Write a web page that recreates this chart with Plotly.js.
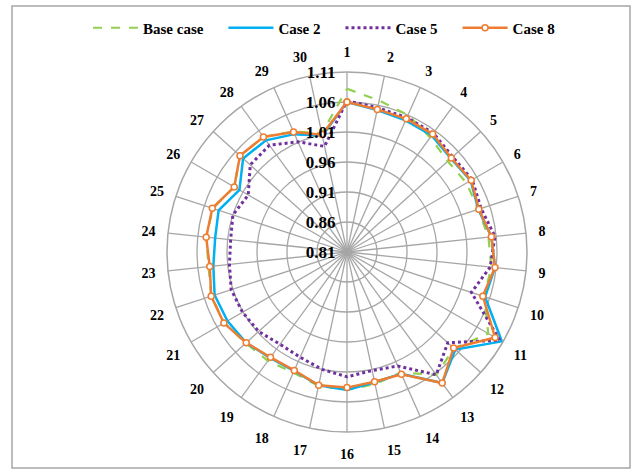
<!DOCTYPE html>
<html>
<head>
<meta charset="utf-8">
<script src="https://cdn.plot.ly/plotly-3.0.1.min.js"></script>
<style>
  html, body { margin: 0; padding: 0; background: #fff; }
  #chart { width: 638px; height: 474px; }
</style>
</head>
<body>
<div id="chart"></div>
<script>
// Bus numbers around the radar
const buses = ["1","2","3","4","5","6","7","8","9","10","11","12","13","14","15",
               "16","17","18","19","20","21","22","23","24","25","26","27","28","29","30"];

// Bus voltage magnitudes (p.u.) for each case
const baseCase = [1.082,1.068,1.060,1.046,1.036,1.040,1.040,1.047,1.052,1.050,
                  1.082,1.050,1.063,1.030,1.035,1.040,1.038,1.030,1.034,1.037,
                  1.046,1.048,1.042,1.046,1.045,1.027,1.050,1.047,1.030,1.012];
const case2    = [1.060,1.052,1.050,1.050,1.043,1.048,1.040,1.052,1.058,1.052,
                  1.108,1.053,1.080,1.032,1.032,1.040,1.037,1.027,1.028,1.036,
                  1.040,1.042,1.034,1.031,1.035,1.017,1.043,1.040,1.025,1.008];
const case5    = [1.062,1.056,1.055,1.055,1.047,1.051,1.045,1.058,1.050,1.028,
                  1.104,1.036,1.063,1.018,1.012,1.018,1.010,1.002,1.000,1.008,
                  1.011,1.013,1.007,1.005,1.010,1.000,1.027,1.030,1.011,0.990];
const case8    = [1.060,1.053,1.053,1.053,1.044,1.049,1.041,1.052,1.058,1.048,
                  1.095,1.049,1.080,1.033,1.031,1.036,1.037,1.026,1.027,1.036,
                  1.047,1.048,1.040,1.046,1.046,1.027,1.050,1.047,1.029,1.010];

// Radial scale ticks
const radialTicks = [0.81, 0.86, 0.91, 0.96, 1.01, 1.06, 1.11];
const radialTickText = ["0.81","0.86","0.91","0.96","1.01","1.06","1.11"];

const closeLoop = arr => arr.concat([arr[0]]);
const theta = closeLoop(buses);

const serif = "'Liberation Serif', 'Times New Roman', serif";
const gap = "\u00a0\u00a0\u00a0\u00a0";

const traces = [
  { name: "Base case" + gap, r: closeLoop(baseCase), theta: theta, type: "scatterpolar", mode: "lines",
    line: { color: "#92D050", width: 2.2, dash: "dash" } },
  { name: "Case 2" + gap, r: closeLoop(case2), theta: theta, type: "scatterpolar", mode: "lines",
    line: { color: "#00B0F0", width: 2.5 } },
  { name: "Case 5" + gap, r: closeLoop(case5), theta: theta, type: "scatterpolar", mode: "lines",
    line: { color: "#7030A0", width: 3, dash: "dot" } },
  { name: "Case 8", r: closeLoop(case8), theta: theta, type: "scatterpolar", mode: "lines+markers",
    line: { color: "#ED7D31", width: 2.5 },
    marker: { symbol: "circle", size: 6, color: "#ffffff", line: { color: "#ED7D31", width: 1.5 } } }
];

const W = 638, H = 474;
const cx = 347, cy = 252, R = 180;

const layout = {
  width: W, height: H,
  margin: { l: 0, r: 0, t: 0, b: 0 },
  paper_bgcolor: "#ffffff",
  font: { family: serif, color: "#000000", size: 14, weight: "bold" },
  showlegend: true,
  legend: {
    orientation: "h", x: 88 / W, xanchor: "left", y: 1 - 28 / H, yanchor: "middle",
    font: { family: serif, size: 15, weight: "bold", color: "#000" },
    itemwidth: 45, bgcolor: "rgba(0,0,0,0)"
  },
  polar: {
    domain: { x: [(cx - R) / W, (cx + R) / W], y: [(H - cy - R) / H, (H - cy + R) / H] },
    bgcolor: "#ffffff",
    angularaxis: {
      type: "category", direction: "clockwise", rotation: 90,
      showline: true, linecolor: "#a6a6a6", linewidth: 1.5,
      showgrid: true, gridcolor: "#a6a6a6", gridwidth: 1.3,
      ticks: "outside", ticklen: 9, tickcolor: "rgba(0,0,0,0)",
      tickfont: { family: serif, size: 14, weight: "bold", color: "#000" }
    },
    radialaxis: {
      range: [0.81, 1.11], angle: 90, side: "counterclockwise", tickangle: 90,
      tickvals: radialTicks, ticktext: radialTickText,
      showline: false, ticks: "outside", ticklen: 5, tickcolor: "rgba(0,0,0,0)",
      showgrid: true, gridcolor: "#a6a6a6", gridwidth: 1.3,
      tickfont: { family: serif, size: 17, weight: "bold", color: "#000" }
    }
  },
  shapes: [
    { type: "rect", xref: "paper", yref: "paper",
      x0: 12 / W, x1: 630 / W, y0: 1 - 468 / H, y1: 1 - 6 / H,
      line: { color: "#a6a6a6", width: 1.5 }, fillcolor: "rgba(0,0,0,0)" }
  ]
};

Plotly.newPlot("chart", traces, layout, { displayModeBar: false, staticPlot: true });
</script>
</body>
</html>
